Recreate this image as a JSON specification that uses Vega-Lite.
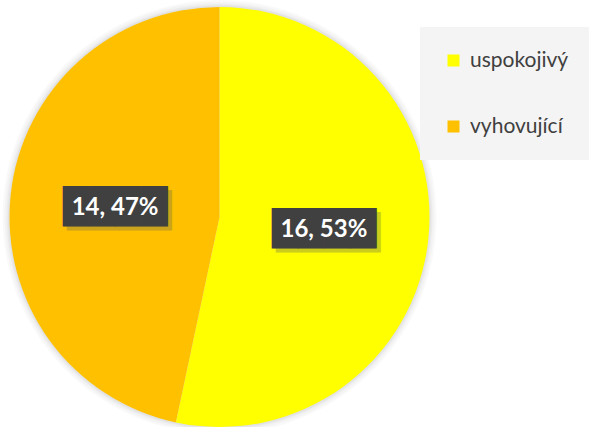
{
  "$schema": "https://vega.github.io/schema/vega-lite/v6.json",
  "width": 439,
  "height": 434,
  "padding": 0,
  "background": "#ffffff",
  "config": {"view": {"stroke": null}},
  "data": {
    "values": [
      {"kategorie": "uspokojivý", "pocet": 16, "label": "16, 53%"},
      {"kategorie": "vyhovující", "pocet": 14, "label": "14, 47%"}
    ]
  },
  "encoding": {
    "theta": {"field": "pocet", "type": "quantitative", "stack": true},
    "order": {"field": "kategorie", "type": "ordinal", "sort": "ascending"}
  },
  "layer": [
    {"mark": {"type": "arc", "outerRadius": 217, "color": "#000000", "opacity": 0.025}},
    {"mark": {"type": "arc", "outerRadius": 215, "color": "#000000", "opacity": 0.025}},
    {"mark": {"type": "arc", "outerRadius": 213, "color": "#000000", "opacity": 0.03}},
    {"mark": {"type": "arc", "outerRadius": 211.5, "color": "#000000", "opacity": 0.035}},
    {
      "mark": {"type": "arc", "outerRadius": 210},
      "encoding": {
        "color": {
          "field": "kategorie",
          "type": "nominal",
          "scale": {"domain": ["uspokojivý", "vyhovující"], "range": ["#FFFF00", "#FFC000"]},
          "legend": {
            "title": null,
            "orient": "none",
            "legendX": 420,
            "legendY": 27,
            "fillColor": "#f4f4f4",
            "padding": 23,
            "symbolType": "square",
            "symbolSize": 144,
            "symbolStrokeWidth": 0,
            "symbolOpacity": 1,
            "labelFont": "Lato",
            "labelFontSize": 21,
            "labelColor": "#404040",
            "labelOffset": 6,
            "rowPadding": 44,
            "labelLimit": 300
          }
        }
      }
    },
    {
      "mark": {"type": "text", "radius": 105, "text": "████", "font": "DejaVu Sans", "fontSize": 34, "color": "#6f6f50", "opacity": 0.35, "dx": 4, "dy": 6, "baseline": "middle", "align": "center"}
    },
    {
      "mark": {"type": "text", "radius": 105, "text": "████", "font": "DejaVu Sans", "fontSize": 34, "color": "#404040", "dy": 2, "baseline": "middle", "align": "center"}
    },
    {
      "mark": {"type": "text", "radius": 105, "font": "Lato", "fontWeight": "bold", "fontSize": 24, "color": "#ffffff", "baseline": "middle", "align": "center", "dy": 2},
      "encoding": {"text": {"field": "label", "type": "nominal"}}
    }
  ]
}
